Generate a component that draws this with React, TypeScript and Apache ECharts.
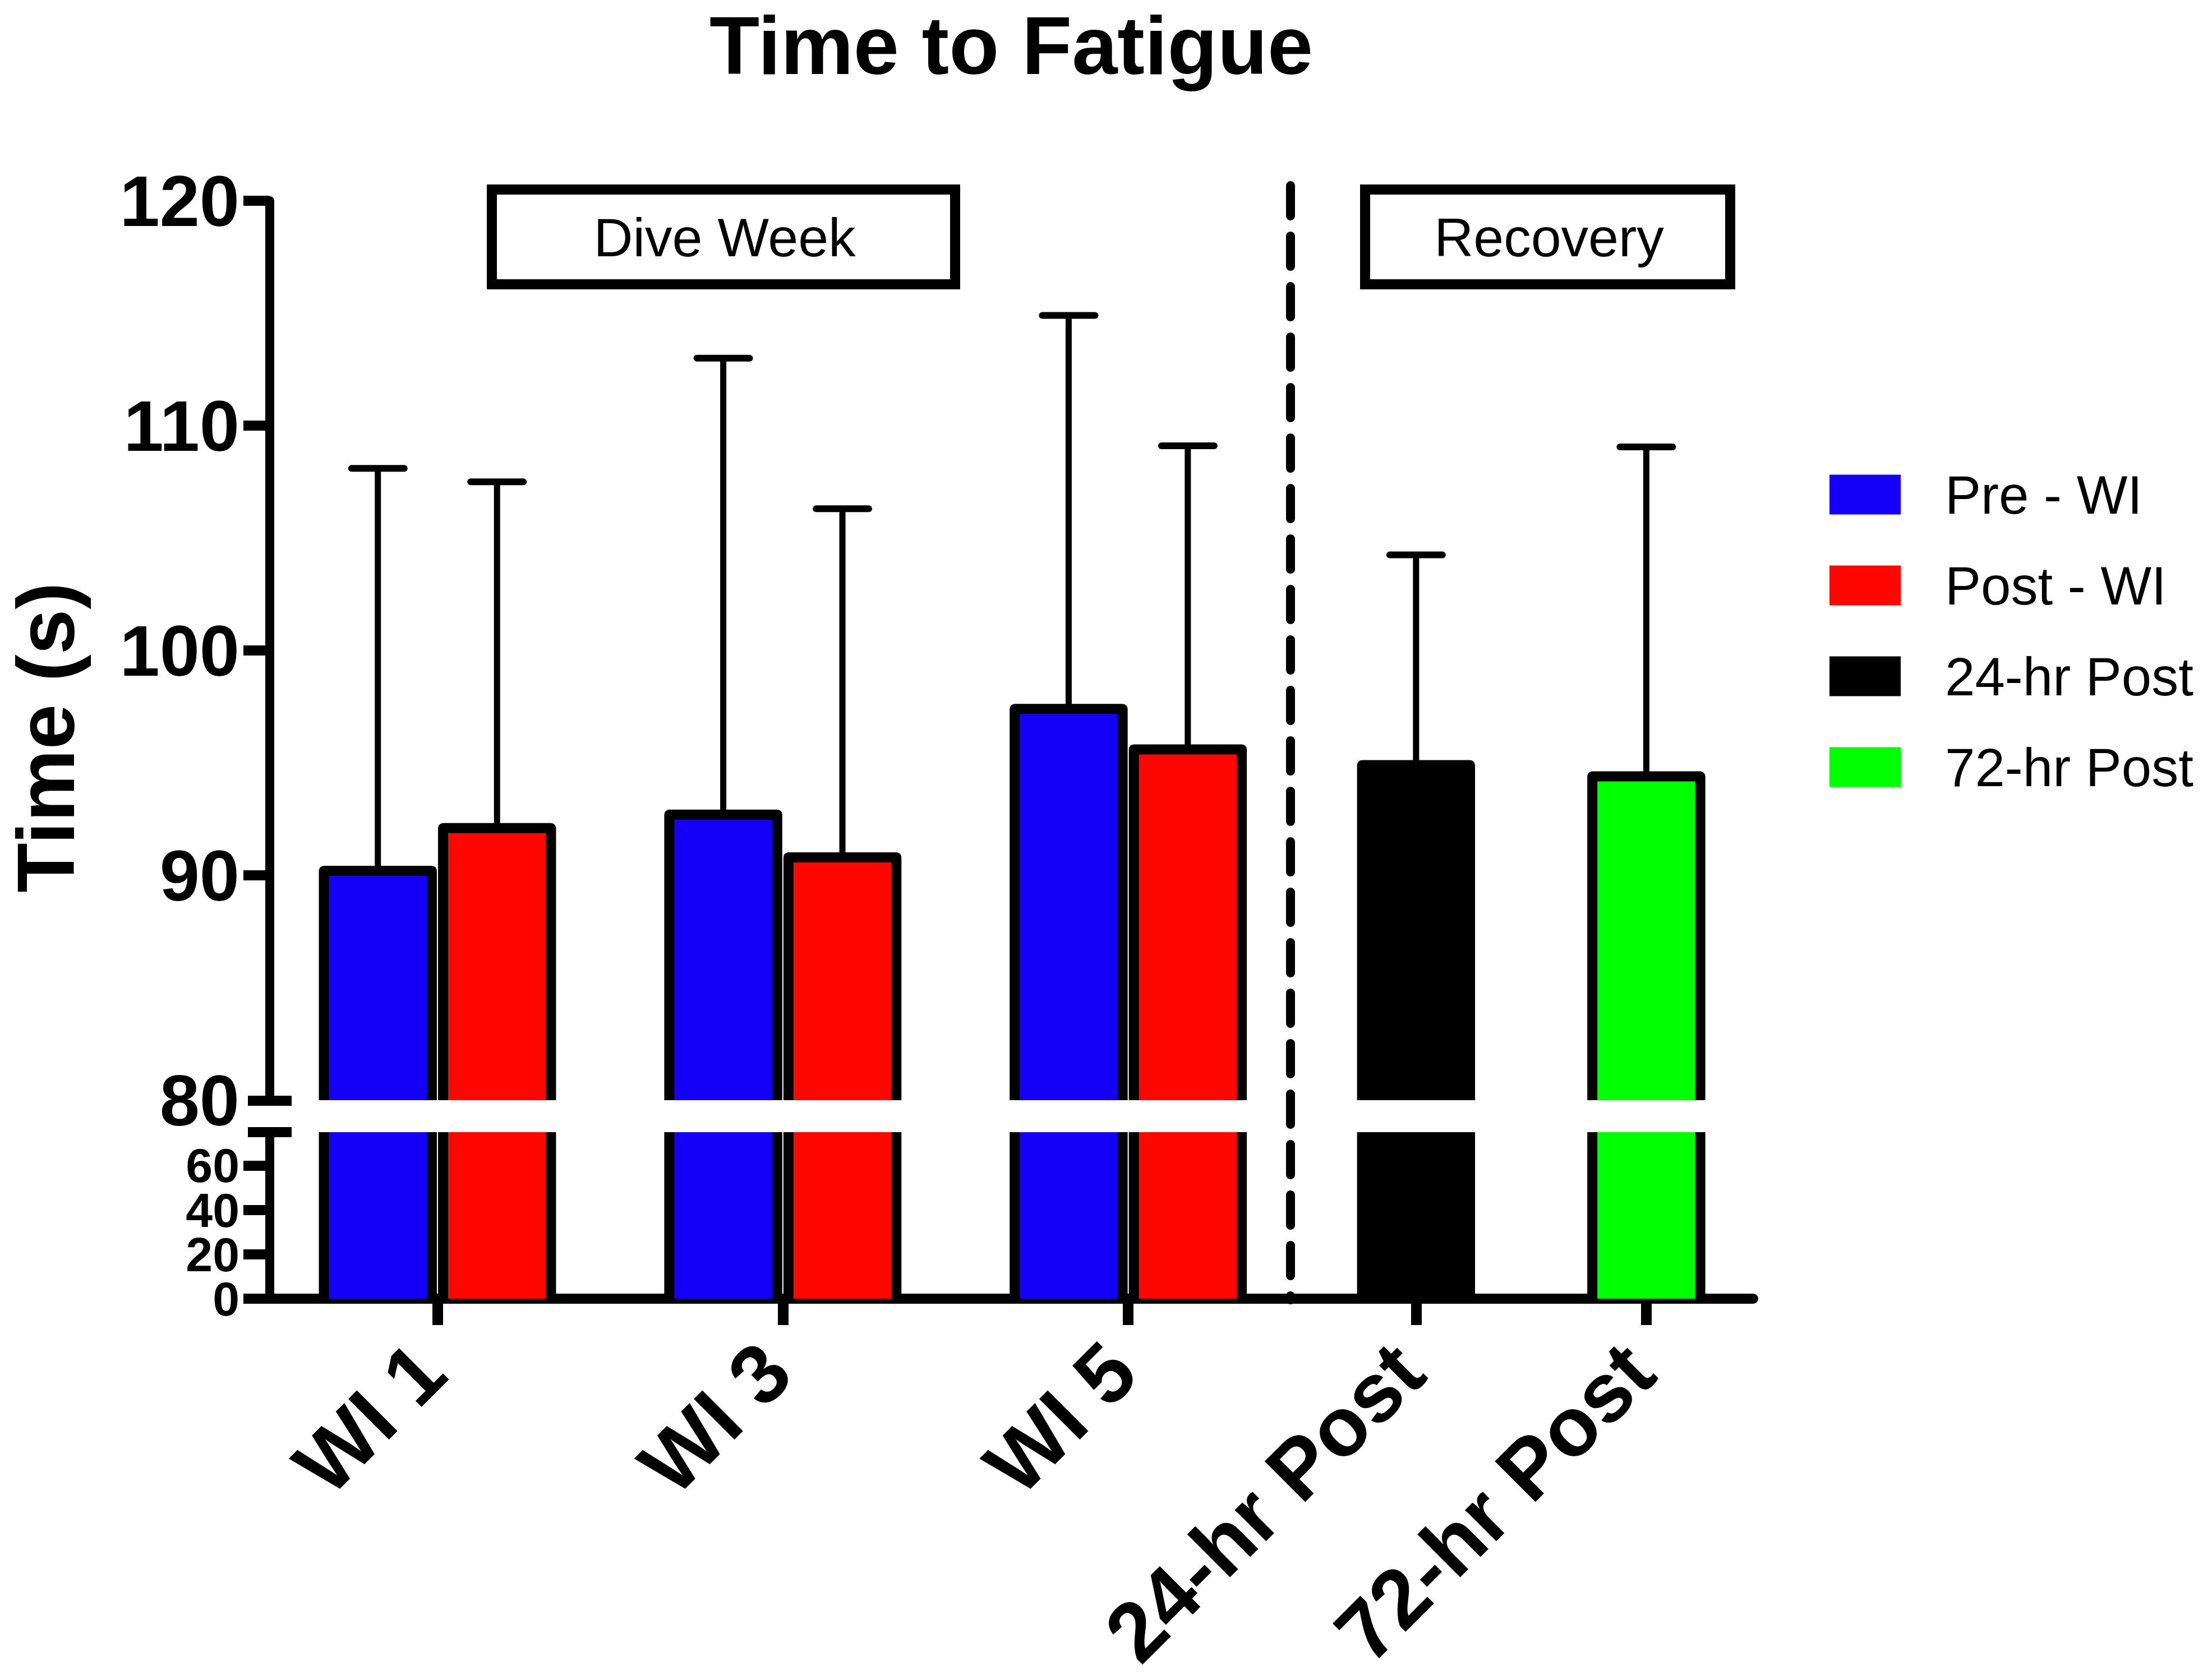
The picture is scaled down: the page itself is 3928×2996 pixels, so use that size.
import React, { useEffect, useRef } from 'react';
import * as echarts from 'echarts';

// ---------------- data ----------------
const categories = ['WI 1', 'WI 3', 'WI 5', '24-hr Post', '72-hr Post'];
const seriesNames = ['Pre - WI', 'Post - WI', '24-hr Post', '72-hr Post'];
const preWIMean = [90.2, 92.7, 97.4];
const preWISD = [17.9, 20.3, 17.5];
const postWIMean = [92.1, 90.8, 95.6];
const postWISD = [15.4, 15.5, 13.5];
const post24Mean = [94.9];
const post24SD = [9.35];
const post72Mean = [94.4];
const post72SD = [14.65];
const upperTickLabels = [80, 90, 100, 110, 120];
const upperTickMarks = [90, 100, 110, 120];
const lowerTicksA = [0, 40];
const lowerTicksB = [20, 60];

// ---------------- layout ----------------
const W = 3928;
const H = 2996;
const FONT = '"Liberation Sans", Arial, Helvetica, sans-serif';
const SLOTS = [0, 6, 12, 17, 21]; // position of each category group on the hidden x value axis
const X_MIN = -2.913;
const X_MAX = 22.857;
const GRID_LEFT = 481;
const GRID_W = 3126 - 481;
const UP_TOP = 358;
const UP_BOTTOM = 1962;
const LO_TOP = 2019;
const LO_BOTTOM = 2316;
const BAR_W = 1.875;
const PAIR_OFF = 1.035;
const COLORS = ['#1500F7', '#FF0600', '#000000', '#00FF00'];

const groups = [
  { name: seriesNames[0], color: COLORS[0], cats: [0, 1, 2], means: preWIMean, sds: preWISD, offset: -PAIR_OFF },
  { name: seriesNames[1], color: COLORS[1], cats: [0, 1, 2], means: postWIMean, sds: postWISD, offset: PAIR_OFF },
  { name: seriesNames[2], color: COLORS[2], cats: [3], means: post24Mean, sds: post24SD, offset: 0 },
  { name: seriesNames[3], color: COLORS[3], cats: [4], means: post72Mean, sds: post72SD, offset: 0 },
];

function makeRender(color: string, offset: number, lo: number, hi: number, withErr: boolean) {
  return (params: any, api: any) => {
    const slot = api.value(0) as number;
    const mean = api.value(1) as number;
    const sd = api.value(2) as number;
    const c = slot + offset;
    const xl = api.coord([c - BAR_W / 2, lo])[0];
    const xr = api.coord([c + BAR_W / 2, lo])[0];
    const xc = api.coord([c, lo])[0];
    const yBot = api.coord([c, lo])[1];
    const clipped = mean > hi;
    const yTop = api.coord([c, clipped ? hi : mean])[1];
    const children: any[] = [];
    if (withErr && !clipped) {
      const yErr = api.coord([c, mean + sd])[1];
      children.push({
        type: 'line',
        shape: { x1: xc, y1: yTop, x2: xc, y2: yErr },
        style: { stroke: '#000', lineWidth: 11 },
      });
      children.push({
        type: 'line',
        shape: { x1: xc - 47, y1: yErr, x2: xc + 47, y2: yErr },
        style: { stroke: '#000', lineWidth: 12, lineCap: 'round' },
      });
    }
    children.push({
      type: 'rect',
      shape: { x: xl, y: yTop, width: xr - xl, height: yBot - yTop },
      style: { fill: color },
    });
    if (clipped) {
      children.push({
        type: 'line',
        shape: { x1: xl, y1: yTop, x2: xl, y2: yBot },
        style: { stroke: '#000', lineWidth: 18 },
      });
      children.push({
        type: 'line',
        shape: { x1: xr, y1: yTop, x2: xr, y2: yBot },
        style: { stroke: '#000', lineWidth: 18 },
      });
    } else {
      children.push({
        type: 'polyline',
        shape: { points: [[xl, yBot], [xl, yTop], [xr, yTop], [xr, yBot]] },
        style: { stroke: '#000', lineWidth: 18, fill: 'none', lineJoin: 'round' },
      });
    }
    return { type: 'group', children };
  };
}

function buildSeries() {
  const out: any[] = [];
  groups.forEach((g) => {
    const data = g.cats.map((ci, i) => [SLOTS[ci], g.means[i], g.sds[i]]);
    out.push({
      type: 'custom',
      name: g.name,
      xAxisIndex: 0,
      yAxisIndex: 0,
      dimensions: ['slot', 'mean', 'sd'],
      encode: { x: 0, y: 1 },
      itemStyle: { color: g.color },
      renderItem: makeRender(g.color, g.offset, 80, 120, true),
      data,
    });
    out.push({
      type: 'custom',
      name: g.name,
      xAxisIndex: 1,
      yAxisIndex: 1,
      dimensions: ['slot', 'mean', 'sd'],
      encode: { x: 0, y: 1 },
      itemStyle: { color: g.color },
      renderItem: makeRender(g.color, g.offset, 0, 75, false),
      data,
    });
  });
  return out;
}

const axisLineStyle = { color: '#000', width: 16 };

function lowerAxis(values: number[], showLine: boolean): any {
  return {
    gridIndex: 1,
    type: 'value',
    position: 'left',
    offset: 0,
    min: 0,
    max: 75,
    interval: 20,
    axisLine: { show: showLine, onZero: false, lineStyle: axisLineStyle },
    axisTick: { show: true, length: 47, customValues: values, lineStyle: { color: '#000', width: 18 } },
    axisLabel: {
      customValues: values,
      margin: 54,
      showMinLabel: true,
      showMaxLabel: true,
      hideOverlap: false,
      fontSize: 86,
      lineHeight: 78,
      fontWeight: 'bold',
      fontFamily: FONT,
      color: '#000',
    },
    splitLine: { show: false },
  };
}

function buildOption(): any {
  return {
    animation: false,
    backgroundColor: '#ffffff',
    grid: [
      { left: GRID_LEFT, top: UP_TOP, width: GRID_W, height: UP_BOTTOM - UP_TOP, containLabel: false, outerBoundsMode: 'none' },
      { left: GRID_LEFT, top: LO_TOP, width: GRID_W, height: LO_BOTTOM - LO_TOP, containLabel: false, outerBoundsMode: 'none' },
    ],
    xAxis: [
      { gridIndex: 0, type: 'value', min: X_MIN, max: X_MAX, show: false },
      {
        gridIndex: 1,
        type: 'value',
        min: X_MIN,
        max: X_MAX,
        axisLine: { show: true, onZero: false, lineStyle: { color: '#000', width: 18 } },
        axisTick: { show: true, length: 47, customValues: SLOTS, lineStyle: { color: '#000', width: 19 } },
        axisLabel: {
          show: true,
          customValues: SLOTS,
          rotate: 45,
          margin: 92,
          padding: [0, 18, 0, 0],
          showMinLabel: true,
          showMaxLabel: true,
          hideOverlap: false,
          formatter: (v: number) => {
            const i = SLOTS.indexOf(Math.round(v));
            return i >= 0 ? categories[i] : '';
          },
          fontSize: 149,
          fontWeight: 'bold',
          fontFamily: FONT,
          color: '#000',
        },
        splitLine: { show: false },
      },
    ],
    yAxis: [
      {
        gridIndex: 0,
        type: 'value',
        min: 80,
        max: 120,
        interval: 10,
        axisLine: { show: true, onZero: false, lineStyle: axisLineStyle },
        axisTick: { show: true, length: 47, customValues: upperTickMarks, lineStyle: { color: '#000', width: 18 } },
        axisLabel: {
          customValues: upperTickLabels,
          margin: 54,
          showMinLabel: true,
          showMaxLabel: true,
          hideOverlap: false,
          fontSize: 128,
          fontWeight: 'bold',
          fontFamily: FONT,
          color: '#000',
        },
        splitLine: { show: false },
      },
      lowerAxis(lowerTicksA, true),
      lowerAxis(lowerTicksB, false),
    ],
    legend: {
      data: seriesNames.map((n) => ({ name: n, icon: 'rect' })),
      orient: 'vertical',
      left: 3262,
      top: 834,
      padding: 0,
      itemWidth: 127,
      itemHeight: 71,
      itemGap: 66,
      selectedMode: false,
      textStyle: {
        fontSize: 96,
        fontFamily: FONT,
        color: '#000',
        padding: [0, 0, 0, 74],
      },
    },
    graphic: [
      {
        type: 'text',
        x: 1803,
        y: 81,
        style: {
          text: 'Time to Fatigue',
          fontSize: 146,
          lineHeight: 146,
          fontWeight: 'bold',
          fontFamily: FONT,
          fill: '#000',
          align: 'center',
          verticalAlign: 'middle',
        },
      },
      {
        type: 'text',
        x: 82,
        y: 1315,
        rotation: Math.PI / 2,
        style: {
          text: 'Time (s)',
          fontSize: 145,
          fontWeight: 'bold',
          fontFamily: FONT,
          fill: '#000',
          align: 'center',
          verticalAlign: 'middle',
        },
      },
      {
        type: 'rect',
        shape: { x: 877, y: 338, width: 826, height: 169 },
        style: { fill: '#fff', stroke: '#000', lineWidth: 18 },
      },
      {
        type: 'text',
        x: 1292,
        y: 423,
        style: {
          text: 'Dive Week',
          fontSize: 97,
          fontFamily: FONT,
          fill: '#000',
          align: 'center',
          verticalAlign: 'middle',
        },
      },
      {
        type: 'rect',
        shape: { x: 2434, y: 338, width: 651, height: 169 },
        style: { fill: '#fff', stroke: '#000', lineWidth: 18 },
      },
      {
        type: 'text',
        x: 2762,
        y: 423,
        style: {
          text: 'Recovery',
          fontSize: 97,
          fontFamily: FONT,
          fill: '#000',
          align: 'center',
          verticalAlign: 'middle',
        },
      },
      {
        type: 'line',
        shape: { x1: 2301, y1: 331, x2: 2301, y2: 2318 },
        style: { stroke: '#000', lineWidth: 16, lineDash: [54, 36], lineCap: 'round' },
      },
      {
        type: 'line',
        shape: { x1: 442, y1: UP_BOTTOM + 1, x2: 520, y2: UP_BOTTOM + 1 },
        style: { stroke: '#000', lineWidth: 18 },
      },
      {
        type: 'line',
        shape: { x1: 442, y1: LO_TOP, x2: 520, y2: LO_TOP },
        style: { stroke: '#000', lineWidth: 18 },
      },
    ],
    series: buildSeries(),
  };
}

export default function App() {
  const ref = useRef<HTMLDivElement>(null);
  useEffect(() => {
    if (!ref.current) return;
    const chart = echarts.init(ref.current, undefined, { renderer: 'svg', width: W, height: H });
    chart.setOption(buildOption());
    return () => {
      chart.dispose();
    };
  }, []);
  return (
    <div
      ref={ref}
      style={{ position: 'absolute', left: 0, top: 0, width: W + 'px', height: H + 'px', background: '#fff' }}
    />
  );
}
